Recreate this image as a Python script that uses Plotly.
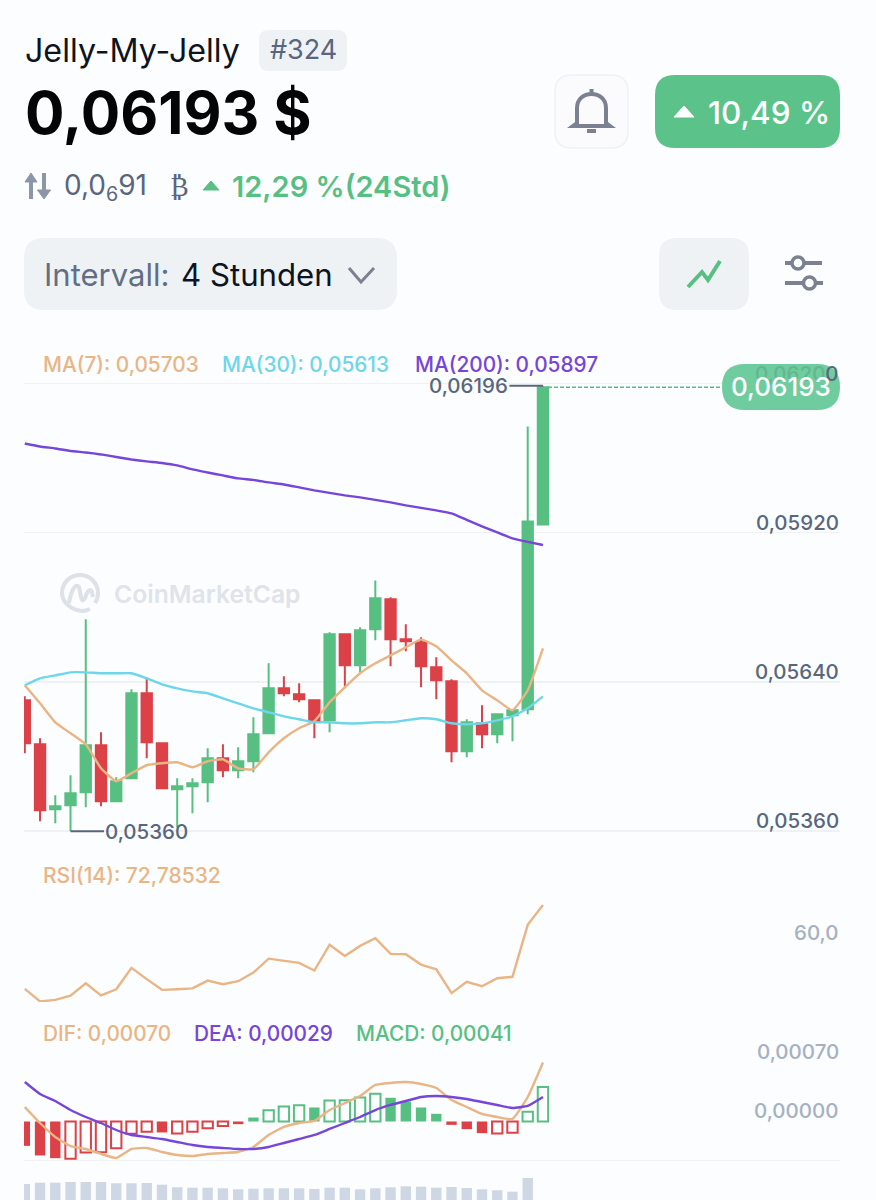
import re
import numpy as np
import plotly.graph_objects as go

W, H = 876, 1200
BG = "#fcfdfe"
GREEN = "#58bf83"
RED = "#dc4147"
ORANGE = "#e9b585"
CYAN = "#6dd6ea"
PURPLE = "#7645d9"
SLATE = "#58667e"
MUTED = "#a6b0c3"
GRID = "#eff2f5"
PANEL = "#eff2f5"
ICON = "#7b8190"
FONT = "Inter"

# ---------- data (prices in units of 1e-5) ----------
open_e5 = [5605.6, 5523.1, 5401.3, 5408.8, 5433.1, 5521.3, 5416.3, 5459.4, 5618.8, 5525,
           5438.8, 5444.4, 5451.9, 5496.9, 5474.4, 5491.3, 5543.8, 5628.1, 5616.9, 5605.6,
           5568.1, 5729.4, 5671.3, 5738.8, 5795, 5720, 5714.4, 5667.5, 5641.3, 5510,
           5562.5, 5541.9, 5577.5, 5588.8, 5935.6]
close_e5 = [5525, 5399.4, 5406.9, 5431.3, 5521.3, 5416.3, 5453.8, 5618.8, 5526.9, 5440.6,
            5444.4, 5450, 5496.9, 5474.4, 5491.3, 5541.9, 5628.1, 5618.8, 5607.5, 5566.3,
            5729.4, 5671.3, 5736.9, 5796.9, 5720, 5716.3, 5669.4, 5643.1, 5510, 5564.4,
            5541.9, 5579.4, 5586.9, 5941.3, 6193]
high_e5 = [5613.1, 5534.4, 5427.5, 5465, 5757.5, 5545.6, 5461.3, 5626.3, 5648.8, 5526.9,
           5459.4, 5459.4, 5515.6, 5523.1, 5517.5, 5573.8, 5675, 5650.6, 5637.5, 5605.6,
           5733.1, 5731.3, 5742.5, 5830.6, 5798.8, 5748.1, 5723.8, 5686.3, 5645, 5570,
           5596.3, 5579.4, 5586.9, 6119.4, 6196]
low_e5 = [5506.3, 5378.8, 5375, 5360, 5405, 5406.9, 5416.3, 5457.5, 5496.9, 5440.6,
          5367.5, 5393.8, 5414.4, 5461.3, 5459.4, 5470.6, 5543.8, 5613.1, 5601.9, 5534.4,
          5545.6, 5631.9, 5656.3, 5718.1, 5669.4, 5697.5, 5630, 5607.5, 5489.4, 5498.8,
          5515.6, 5525, 5528.8, 5579.4, 5935.6]
ma7_e5 = [5633.8, 5600, 5564.4, 5543.8, 5523.1, 5478.1, 5453.8, 5468.8, 5483.8, 5487.5,
          5489.4, 5480, 5491.3, 5495, 5478.1, 5476.3, 5508.1, 5534.4, 5553.1, 5566.3,
          5601.9, 5630, 5656.3, 5675, 5690, 5705, 5720, 5706.9, 5680.6, 5656.3,
          5624.4, 5605.6, 5586.9, 5624.4, 5703]
ma30_e5 = [5633.8, 5646.9, 5652.5, 5658.1, 5658.1, 5656.3, 5656.3, 5656.3, 5646.9, 5635.6,
           5628.1, 5622.5, 5618.8, 5609.4, 5600, 5590.6, 5583.1, 5575.6, 5570, 5564.4,
           5564.4, 5562.5, 5562.5, 5564.4, 5564.4, 5568.1, 5571.9, 5570, 5562.5, 5560.6,
           5562.5, 5568.1, 5575.6, 5590.6, 5613]
ma200_e5 = [6087.5, 6081.9, 6078.1, 6073.4, 6070.6, 6066.9, 6062.2, 6057.5, 6053.8, 6050.9,
            6046.3, 6038.8, 6033.1, 6027.5, 6021.9, 6019.1, 6014.4, 6010.6, 6005, 5999.4,
            5994.7, 5990, 5986.3, 5981.6, 5976.9, 5971.3, 5966.6, 5961.9, 5956.3, 5944.1,
            5931.9, 5920.6, 5909.4, 5902.8, 5897]
rsi = [44.5, 40.3, 40.8, 42.2, 46.4, 42.3, 44.4, 51.6, 47.8, 44.2,
       44.4, 44.7, 47.3, 46.1, 47.1, 50, 54.7, 54.1, 53.3, 50.7,
       59.4, 55.6, 59, 61.6, 56.3, 56.2, 52.7, 51.1, 43.1, 46.9,
       45.4, 48.1, 48.6, 66.1, 72.8]
dif_e5 = [17.2, -1.8, -18.4, -29.1, -32.6, -38.5, -43.3, -32.6, -31.4, -36.2,
          -39.7, -40.9, -38.5, -37.4, -36.2, -30.2, -16, -6.5, -1.8, 0.6,
          13.6, 21.9, 30.2, 43.3, 45.7, 46.8, 44.5, 39.7, 25.5, 17.2,
          8.9, 5.3, 3, 29, 70]
dea_e5 = [46.8, 32.6, 24.3, 13.6, 5.3, -1.8, -10.1, -16, -18.4, -20.8,
          -24.3, -27.9, -30.2, -31.4, -32.6, -32.6, -30.2, -25.5, -20.8, -16,
          -8.9, -1.8, 5.3, 13.6, 19.6, 24.3, 29, 30.2, 29, 26.7,
          23.1, 19.6, 16, 18.4, 29]
macd_e5 = [-28.9, -40.3, -43.5, -44.3, -36.8, -36.4, -31.6, -14.6, -12.3, -13,
           -14.2, -12.3, -7.9, -5.5, -3.2, 4.7, 13.4, 17.8, 19.4, 16.6,
           24.9, 25.3, 28.5, 32.8, 28.1, 23.7, 16.6, 9.1, -4, -9.1,
           -13.8, -14.2, -13.4, 11.5, 41]
macd_solid = [0, 1, 2, 9, 14, 15, 19, 24, 25, 26, 27, 28, 29, 30]
volume = [46, 47.3, 47.3, 48, 48, 48, 46.7, 46.7, 47, 45.3,
          42.7, 42.3, 42.3, 41.7, 40.7, 41.3, 41.7, 41.7, 41.7, 41,
          42.3, 42.3, 40.7, 41.7, 42.7, 43.7, 43.3, 42.3, 43, 42,
          40.7, 39.7, 38.3, 52, 0]

last_price = 0.06193
high_mark = 0.06196
low_mark = 0.05360
price_grid = [0.05360, 0.05640, 0.05920, 0.06200]
price_labels = ["0,05360", "0,05640", "0,05920"]
macd_ticks = [0.00000, 0.00070]
macd_tick_labels = ["0,00000", "0,00070"]

to_price = lambda a: np.array(a) * 1e-5
idx = list(range(len(open_e5)))
opens, closes, highs, lows = map(to_price, (open_e5, close_e5, high_e5, low_e5))
ma7, ma30, ma200 = map(to_price, (ma7_e5, ma30_e5, ma200_e5))
dif, dea, macd = map(to_price, (dif_e5, dea_e5, macd_e5))

# ---------- helpers ----------
fx = lambda x: x / W
fy = lambda y: 1 - y / H


def to_paper(path):
    out, is_x = [], True
    for tok in re.findall(r"[A-Za-z]|-?[\d.]+", path):
        if tok.isalpha():
            out.append(tok)
            is_x = True
        else:
            v = float(tok)
            out.append(f"{fx(v) if is_x else fy(v):.5f}")
            is_x = not is_x
    return " ".join(out)


shapes, notes = [], []


def draw(path, fill=None, line=None, lw=0, layer="above", **kw):
    s = dict(type="path", xref="paper", yref="paper", path=to_paper(path), layer=layer,
             fillcolor=fill or "rgba(0,0,0,0)",
             line=dict(color=line or "rgba(0,0,0,0)", width=lw))
    s.update(kw)
    shapes.append(s)


def rrect(x0, y0, x1, y1, r):
    return (f"M {x0+r} {y0} L {x1-r} {y0} Q {x1} {y0} {x1} {y0+r} L {x1} {y1-r} Q {x1} {y1} {x1-r} {y1} "
            f"L {x0+r} {y1} Q {x0} {y1} {x0} {y1-r} L {x0} {y0+r} Q {x0} {y0} {x0+r} {y0} Z")


def circle(cx, cy, r):
    k = 0.5523 * r
    return (f"M {cx-r} {cy} C {cx-r} {cy-k} {cx-k} {cy-r} {cx} {cy-r} C {cx+k} {cy-r} {cx+r} {cy-k} {cx+r} {cy} "
            f"C {cx+r} {cy+k} {cx+k} {cy+r} {cx} {cy+r} C {cx-k} {cy+r} {cx-r} {cy+k} {cx-r} {cy} Z")


def text(x, y, s, size, color, anchor="left", weight=400, family=FONT):
    notes.append(dict(xref="paper", yref="paper", x=fx(x), y=fy(y), text=s, showarrow=False,
                      xanchor=anchor, yanchor="middle", borderpad=0,
                      font=dict(family=family, size=size, color=color, weight=weight)))


def axis_label(y_val, yref, s, color, size=20.5):
    notes.append(dict(xref="paper", yref=yref, x=fx(840), y=y_val, text=s, showarrow=False,
                      xanchor="right", yanchor="bottom", borderpad=0, yshift=-3,
                      font=dict(family=FONT, size=size, color=color, weight=500)))


# ---------- axes ----------
X_RANGE = [(24 - 24.8) / 15.24, (840 - 24.8) / 15.24]
dom_x = [fx(24), fx(840)]


def yaxis(px_top, px_bottom, vrange, ticks):
    return dict(domain=[fy(px_bottom), fy(px_top)], range=vrange, tickvals=ticks, showticklabels=False,
                showgrid=bool(ticks), gridcolor=GRID, gridwidth=1.5, zeroline=False, showline=False,
                ticks="", fixedrange=True)


def xaxis():
    return dict(domain=dom_x, range=X_RANGE, visible=False, fixedrange=True, rangeslider=dict(visible=False))


fig = go.Figure()

# price panel
fig.add_trace(go.Candlestick(
    x=idx, open=opens, high=highs, low=lows, close=closes, xaxis="x", yaxis="y",
    increasing=dict(line=dict(color=GREEN, width=2), fillcolor=GREEN),
    decreasing=dict(line=dict(color=RED, width=2), fillcolor=RED),
    hoverinfo="skip", showlegend=False))
for series, color in ((ma200, PURPLE), (ma7, ORANGE), (ma30, CYAN)):
    fig.add_trace(go.Scatter(x=idx, y=series, mode="lines", xaxis="x", yaxis="y", hoverinfo="skip",
                             line=dict(color=color, width=2.4, shape="spline", smoothing=0.4), showlegend=False))

# RSI panel
fig.add_trace(go.Scatter(x=idx, y=rsi, mode="lines", xaxis="x2", yaxis="y2", hoverinfo="skip",
                         line=dict(color=ORANGE, width=2.4), showlegend=False))

# MACD panel
bar_colors = [GREEN if v >= 0 else RED for v in macd]
fills = [c if i in macd_solid else "rgba(0,0,0,0)" for i, c in enumerate(bar_colors)]
widths = [0 if i in macd_solid else 2 for i in idx]
fig.add_trace(go.Bar(x=idx, y=macd, width=0.68, xaxis="x3", yaxis="y3", hoverinfo="skip", showlegend=False,
                     marker=dict(color=fills, line=dict(color=bar_colors, width=widths))))
for series, color in ((dif, ORANGE), (dea, PURPLE)):
    fig.add_trace(go.Scatter(x=idx, y=series, mode="lines", xaxis="x3", yaxis="y3", hoverinfo="skip",
                             line=dict(color=color, width=2.4, shape="spline", smoothing=0.4), showlegend=False))

# volume panel
fig.add_trace(go.Bar(x=idx, y=volume, width=0.68, xaxis="x4", yaxis="y4", hoverinfo="skip", showlegend=False,
                     marker=dict(color="#cfd6e4", line=dict(width=0))))

# ---------- chrome ----------
# header
text(24, 51, "Jelly-My-Jelly", 32.2, "#0d1421")
draw(rrect(259, 30, 347, 71, 10), fill=PANEL)
text(303, 50, "#324", 27, SLATE, anchor="center")
text(24, 112, "0,06193 $", 58.6, "#040507", weight=700)

ARROW = "#8d96a8"
draw("M 31 182 L 31 199", line=ARROW, lw=4)
draw("M 25 182 L 31 173 L 37 182 Z", fill=ARROW, line=ARROW, lw=1)
draw("M 44 173 L 44 190", line=ARROW, lw=4)
draw("M 37.5 190 L 44 199 L 50.5 190 Z", fill=ARROW, line=ARROW, lw=1)
text(63, 187, "0,0<sub>6</sub>91", 28, SLATE)
text(169, 187, "₿", 27, SLATE, family="DejaVu Sans")
draw("M 203 190 L 211 181 L 219 190 Z", fill=GREEN, line=GREEN, lw=1)
text(231, 187, "12,29 %(24Std)", 29, GREEN, weight=600)

# bell button
draw(rrect(555, 75, 628, 148, 17), fill="#fbfbfd", line="#eff1f4", lw=1.5)
draw("M 577 123 L 577 108 C 577 99 584 94 591.5 94 C 599 94 606 99 606 108 L 606 123 L 610 126 L 573 126 Z",
     line=ICON, lw=4)
draw("M 591.5 89 L 591.5 94", line=ICON, lw=4)
draw("M 587 131 L 596 131", line=ICON, lw=4)

# change badge
draw(rrect(655, 75, 840, 148, 20), fill="#5bc389")
draw("M 674 117 L 684 106 L 694 117 Z", fill="#ffffff", line="#ffffff", lw=1)
text(707, 112, "10,49 %", 31.5, "#ffffff", weight=500)

# interval selector
draw(rrect(24, 238, 397, 310, 20), fill=PANEL)
text(43, 275, "Intervall:", 31, "#616e85")
text(180, 275, "4 Stunden", 31.2, "#0d1421")
draw("M 349 268 L 361 282 L 374 268", line=ICON, lw=3)

# chart button and sliders icon
draw(rrect(659, 238, 749, 310, 18), fill=PANEL)
draw("M 688 287 L 702 272 L 708 280 L 720 261", line=GREEN, lw=4)
for path in ("M 785 263 L 792 263", "M 805 263 L 822 263", "M 785 283 L 803 283", "M 816 283 L 823 283"):
    draw(path, line=ICON, lw=4)
draw(circle(798, 263, 6), line=ICON, lw=3.5)
draw(circle(809.5, 283, 6), line=ICON, lw=3.5)

# watermark
draw("M 90 609 C 78 615 62 605 62 593 C 62 583 70 575 80 575 C 90 575 98 583 98 593 C 98 597 97 600 95 603",
     line="#dde1e8", lw=4, layer="below")
draw("M 69 603 C 71 592 75 582 79 587 C 81 595 81 605 85 598 C 87 592 90 587 92 592 L 93 597",
     line="#dde1e8", lw=4, layer="below")
text(113, 594, "CoinMarketCap", 24.7, "#dfe3ea", weight=600)

# indicator captions
text(42, 364, "MA(7): 0,05703", 20.8, ORANGE, weight=500)
text(221, 364, "MA(30): 0,05613", 20.8, CYAN, weight=500)
text(414, 364, "MA(200): 0,05897", 20.8, PURPLE, weight=500)
text(42, 875, "RSI(14): 72,78532", 21, ORANGE, weight=500)
text(42, 1033, "DIF: 0,00070", 20.8, ORANGE, weight=500)
text(193, 1033, "DEA: 0,00029", 20.8, PURPLE, weight=500)
text(355, 1033, "MACD: 0,00041", 20.8, GREEN, weight=500)

# axis labels
for v, lab in zip(price_grid[:3], price_labels):
    axis_label(v, "y", lab, SLATE)
for v, lab in zip(macd_ticks, macd_tick_labels):
    axis_label(v, "y3", lab, MUTED)
axis_label(60, "y2", "60,0", MUTED)

# min / max markers
shapes.append(dict(type="line", xref="x", yref="y", x0=3, x1=5.2, y0=low_mark, y1=low_mark,
                   line=dict(color=SLATE, width=2)))
notes.append(dict(xref="x", yref="y", x=5.2, y=low_mark, text="0,05360", showarrow=False, xanchor="left",
                  yanchor="middle", borderpad=0, font=dict(family=FONT, size=20.5, color=SLATE, weight=500)))
shapes.append(dict(type="line", xref="x", yref="y", x0=31.8, x1=34, y0=high_mark, y1=high_mark,
                   line=dict(color=SLATE, width=2)))
notes.append(dict(xref="x", yref="y", x=31.8, y=high_mark, text="0,06196", showarrow=False, xanchor="right",
                  yanchor="middle", borderpad=0, font=dict(family=FONT, size=20.5, color=SLATE, weight=500)))

# last price tag
shapes.append(dict(type="line", xref="paper", yref="y", x0=fx(548), x1=fx(722), y0=last_price, y1=last_price,
                   line=dict(color=GREEN, width=1.5, dash="4px,2px")))
draw(rrect(722, 364, 840, 410, 23), fill="#6fcc9f")
notes.append(dict(xref="paper", yref="y", x=fx(840), y=0.06200, showarrow=False, xanchor="right", yanchor="bottom",
                  borderpad=0, yshift=-3, text='<span style="color:#62b78d">0,0620</span>0',
                  font=dict(family=FONT, size=20.5, color=SLATE, weight=500)))
text(781, 386, "0,06193", 26, "#ffffff", anchor="center", weight=500)

fig.update_layout(
    width=W, height=H, autosize=False, margin=dict(l=0, r=0, t=0, b=0),
    paper_bgcolor=BG, plot_bgcolor="rgba(0,0,0,0)", showlegend=False, dragmode=False,
    boxgap=0.32, boxgroupgap=0, shapes=shapes, annotations=notes,
    xaxis=xaxis(), xaxis2=dict(xaxis(), anchor="y2"), xaxis3=dict(xaxis(), anchor="y3"), xaxis4=dict(xaxis(), anchor="y4"),
    yaxis=yaxis(375.5, 835.5, [0.05352, 0.06215], price_grid),
    yaxis2=dict(yaxis(895, 1002, [40.1, 76.15], [40.25]), anchor="x2"),
    yaxis3=dict(yaxis(1045, 1165, [-0.000516, 0.000907], [-0.000463]), anchor="x3"),
    yaxis4=dict(yaxis(1165, 1200, [30, 65], []), anchor="x4"),
)

fig.write_html("out.html", post_script="document.body.style.margin='0';document.body.style.overflow='hidden';",
               config=dict(displayModeBar=False, staticPlot=True))
